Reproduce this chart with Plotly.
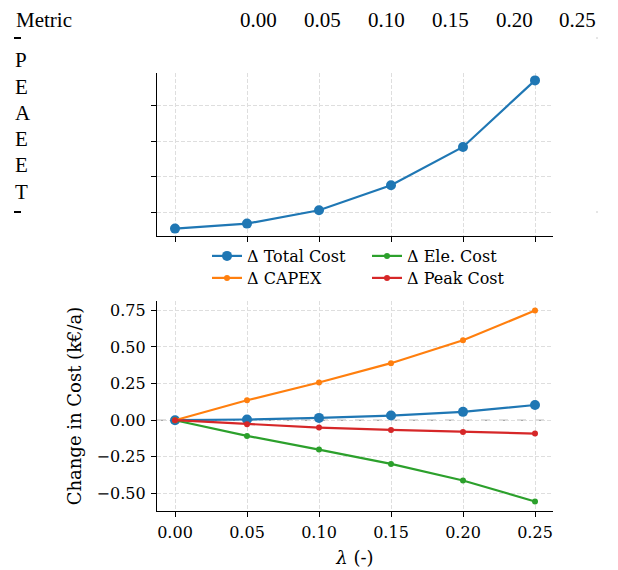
import plotly.graph_objects as go

# page body adds an 8px offset; the figure is sized to fill the rest of the window
OFF = 8
W, H = 618 - OFF, 570 - OFF

# ---------------- data ----------------
lam = [0.00, 0.05, 0.10, 0.15, 0.20, 0.25]
total_cost_abs = [5.2387, 5.2422, 5.2516, 5.2691, 5.2960, 5.3427]
d_total = [0.000, 0.005, 0.016, 0.032, 0.057, 0.104]
d_capex = [0.000, 0.136, 0.257, 0.389, 0.545, 0.748]
d_ele = [0.000, -0.107, -0.200, -0.298, -0.411, -0.554]
d_peak = [0.000, -0.027, -0.050, -0.066, -0.080, -0.091]

table_header = ["Metric", "0.00", "0.05", "0.10", "0.15", "0.20", "0.25"]
table_rows = ["P", "E", "A", "E", "E", "T"]

series_names = ["Δ Total Cost", "Δ CAPEX", "Δ Ele. Cost", "Δ Peak Cost"]
colors = ["#1f77b4", "#ff7f0e", "#2ca02c", "#d62728"]


# ---------------- helpers (screen px -> paper fraction) ----------------
def px(p):
    return (p - OFF) / W


def py(p):
    return 1 - (p - OFF) / H


def padded(vals, frac=0.05):
    lo, hi = min(vals), max(vals)
    d = (hi - lo) * frac
    return [lo - d, hi + d]


SERIF = "DejaVu Serif"
TABLE_FONT = "Liberation Serif"
GRID = "#dedede"

fig = go.Figure()

# top panel: absolute total cost
fig.add_trace(go.Scatter(
    x=lam, y=total_cost_abs, mode="lines+markers",
    line=dict(color=colors[0], width=2.2),
    marker=dict(size=10, color=colors[0]),
    showlegend=False, xaxis="x", yaxis="y", hoverinfo="skip",
))

# bottom panel: deltas
bottom = [d_total, d_capex, d_ele, d_peak]
legend_ids = ["legend", "legend2", "legend", "legend2"]
for i, (vals, name) in enumerate(zip(bottom, series_names)):
    big = i == 0
    fig.add_trace(go.Scatter(
        x=lam, y=vals, mode="lines+markers", name=name,
        line=dict(color=colors[i], width=2.2),
        marker=dict(size=10 if big else 6, color=colors[i]),
        xaxis="x2", yaxis="y2", legend=legend_ids[i],
    ))

xr = padded(lam)
axis_common = dict(
    showline=True, linecolor="black", linewidth=1.3,
    ticks="outside", ticklen=5, tickwidth=1.3, tickcolor="black",
    showgrid=True, gridcolor=GRID, griddash="4px,2px", gridwidth=0.9,
    zeroline=False, mirror=False,
    tickfont=dict(family=SERIF, size=16, color="black"),
)

fig.update_layout(
    width=W, height=H,
    margin=dict(l=0, r=0, t=0, b=0),
    paper_bgcolor="white", plot_bgcolor="white",
    font=dict(family=SERIF, size=16, color="black"),
    xaxis=dict(domain=[px(157), px(553)], anchor="y", range=xr,
               tickvals=lam, showticklabels=False, **axis_common),
    yaxis=dict(domain=[py(236), py(73)], anchor="x",
               range=padded(total_cost_abs), tick0=0, dtick=0.025,
               showticklabels=False, **axis_common),
    xaxis2=dict(domain=[px(157), px(553)], anchor="y2", range=xr,
                tickvals=lam, tickformat=".2f", ticklabelstandoff=2,
                title=dict(text="<i>λ</i> (-)", font=dict(size=18, family=SERIF),
                           standoff=10),
                **axis_common),
    yaxis2=dict(domain=[py(511), py(301)], anchor="x2",
                range=padded(d_total + d_capex + d_ele + d_peak),
                tickvals=[-0.5, -0.25, 0, 0.25, 0.5, 0.75], tickformat=".2f",
                ticklabelstandoff=2,
                title=dict(text="Change in Cost (k€/a)", font=dict(size=18, family=SERIF),
                           standoff=10),
                **axis_common),
    legend=dict(orientation="h", x=px(207), xanchor="left", y=py(256), yanchor="middle",
                entrywidth=115, entrywidthmode="pixels", bgcolor="rgba(0,0,0,0)",
                font=dict(family=SERIF, size=16, color="black"), traceorder="normal"),
    legend2=dict(orientation="h", x=px(207), xanchor="left", y=py(278), yanchor="middle",
                 entrywidth=115, entrywidthmode="pixels", bgcolor="rgba(0,0,0,0)",
                 font=dict(family=SERIF, size=16, color="black"), traceorder="normal"),
)

# zero reference line in bottom panel
fig.add_shape(type="line", xref="x2 domain", yref="y2", x0=0, x1=1, y0=0, y1=0,
              line=dict(color="#888888", width=1, dash="dash"), layer="below")

# table rule stubs
for yy in (38, 212):
    fig.add_shape(type="line", xref="paper", yref="paper",
                  x0=px(14), x1=px(21), y0=py(yy), y1=py(yy),
                  line=dict(color="black", width=2))
    fig.add_shape(type="line", xref="paper", yref="paper",
                  x0=px(596), x1=px(598), y0=py(yy), y1=py(yy),
                  line=dict(color="#cccccc", width=1))

# table text
header_x = [14, 258, 322, 386, 450, 514, 577]
for i, (t, xx) in enumerate(zip(table_header, header_x)):
    fig.add_annotation(text=t, xref="paper", yref="paper", x=px(xx), y=py(20),
                       xanchor="left" if i == 0 else "center", yanchor="middle",
                       showarrow=False, font=dict(family=TABLE_FONT, size=21, color="black"))
row_y = [60, 86.5, 113, 139, 165.5, 192]
for t, yy in zip(table_rows, row_y):
    fig.add_annotation(text=t, xref="paper", yref="paper", x=px(13), y=py(yy),
                       xanchor="left", yanchor="middle", showarrow=False,
                       font=dict(family=TABLE_FONT, size=21, color="black"))

fig.write_html("out.html")
